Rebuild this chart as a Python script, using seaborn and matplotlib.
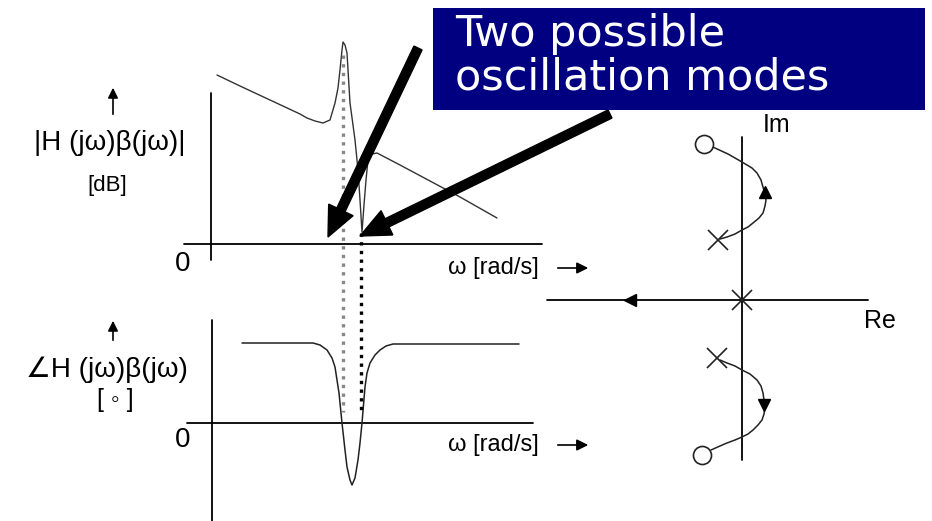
import matplotlib.pyplot as plt
import seaborn as sns
from matplotlib.patches import Rectangle

# Everything is laid out in picture pixels (x to the right, y downwards)
W, H = 932, 521

# Magnitude |H(jw)B(jw)| curve
mag_x = [217, 240, 270, 300, 307, 315, 323, 330, 335, 338, 340, 342, 343, 345, 347, 350,
         353, 355, 358, 360, 362, 364, 366, 368, 372, 377, 400, 430, 460, 497]
mag_y = [75, 86, 100, 114, 118, 121, 123, 120, 103, 88, 70, 50, 42, 45, 53, 103,
         125, 140, 170, 200, 232, 205, 180, 160, 154, 153, 165, 181, 197, 218]

# Phase curve
phase_x = [242, 313, 320, 327, 332, 335, 339, 342, 345, 347, 350, 352, 355, 358, 360,
           362, 365, 367, 370, 375, 380, 386, 393, 519]
phase_y = [343, 343, 345, 350, 358, 367, 393, 423, 450, 467, 480, 485, 478, 460, 443,
           423, 387, 373, 363, 355, 350, 346, 344, 344]

# Root locus branches
upper_x = [712, 715, 728, 742, 752, 757, 761, 763, 765, 766, 765, 763, 759, 753, 748, 742, 735, 727, 720]
upper_y = [147, 148, 154, 162, 168, 173, 180, 187, 194, 200, 206, 213, 218, 223, 227, 230, 234, 237, 239]
lower_x = [720, 727, 735, 742, 750, 757, 761, 763, 765, 764, 762, 758, 753, 748, 742, 735, 727, 720, 711]
lower_y = [360, 363, 366, 370, 374, 380, 386, 393, 407, 414, 420, 425, 430, 434, 437, 440, 443, 446, 450]
poles_x = [742, 718, 717]
poles_y = [300, 240, 358]
zeros_x = [704, 702]
zeros_y = [144, 455]

# Oscillation frequencies (dotted markers)
osc_x = [343, 361]

box_lines = ["Two possible", "oscillation modes"]

sns.set_style("white")
plt.rcParams['font.family'] = ['Liberation Sans', 'DejaVu Sans']
plt.rcParams['text.color'] = 'black'

fig = plt.figure(figsize=(W / 100, H / 100), dpi=100)
ax = fig.add_axes([0, 0, 1, 1])
ax.set_xlim(0, W)
ax.set_ylim(H, 0)
ax.axis('off')

k = dict(color='black', lw=1.3)
# magnitude axes
ax.plot([211, 211], [93, 260], **k)
ax.plot([184, 542], [244, 244], **k)
# phase axes
ax.plot([212, 212], [320, 521], **k)
ax.plot([187, 533], [423, 423], **k)

sns.lineplot(x=mag_x, y=mag_y, sort=False, estimator=None, ax=ax, color='#333333', lw=1.0)
sns.lineplot(x=phase_x, y=phase_y, sort=False, estimator=None, ax=ax, color='#222222', lw=1.1)

# dotted guides
ax.plot([osc_x[0]] * 2, [55, 412], color='#888888', lw=2.4, ls=(0, (1, 1.6)))
ax.plot([osc_x[1]] * 2, [233, 412], color='black', lw=2.4, ls=(0, (1, 1.6)))

# axis captions
ax.text(183, 264, "0", fontsize=20, ha='center', va='center')
ax.text(183, 440, "0", fontsize=20, ha='center', va='center')
for yy in (268, 445):
    ax.text(493, yy, "ω [rad/s]", fontsize=17, ha='center', va='center')
    ax.annotate('', xy=(591, yy), xytext=(555, yy),
                arrowprops=dict(arrowstyle='-|>', color='black', lw=1.2, mutation_scale=17))

ax.annotate('', xy=(113, 85), xytext=(113, 117),
            arrowprops=dict(arrowstyle='-|>', color='black', lw=1.2, mutation_scale=15))
ax.annotate('', xy=(113, 318), xytext=(113, 343),
            arrowprops=dict(arrowstyle='-|>', color='black', lw=1.2, mutation_scale=15))
ax.text(110, 143, "|H (jω)β(jω)|", fontsize=20, ha='center', va='center')
ax.text(107, 185, "[dB]", fontsize=16, ha='center', va='center')
ax.text(107, 370, "∠H (jω)β(jω)", fontsize=20, ha='center', va='center')
ax.text(115, 400, "[ ◦ ]", fontsize=18, ha='center', va='center')

# root locus
ax.plot([742, 742], [137, 460], color='black', lw=1.3)
ax.plot([547, 868], [300, 300], color='black', lw=1.3)
ax.plot([630], [300], marker='<', color='black', ms=9)
sns.lineplot(x=upper_x, y=upper_y, sort=False, estimator=None, ax=ax, color='#222222', lw=1.1)
sns.lineplot(x=lower_x, y=lower_y, sort=False, estimator=None, ax=ax, color='#222222', lw=1.1)
ax.plot([765], [192], marker='^', color='black', ms=8)
ax.plot([764], [405], marker='v', color='black', ms=8)
ax.plot(poles_x, poles_y, ls='none', marker='x', color='#222222', ms=15, mew=1.2)
ax.plot(zeros_x, zeros_y, ls='none', marker='o', mfc='white', mec='#222222', ms=13, mew=1.2)
ax.text(777, 125, "Im", fontsize=18, ha='center', va='center')
ax.text(880, 321, "Re", fontsize=18, ha='center', va='center')

# big pointer arrows
ax.arrow(418, 48, 328 - 418, 237 - 48, width=9, head_width=27, head_length=30,
         length_includes_head=True, color='black', zorder=5)
ax.arrow(610, 114, 360 - 610, 236 - 114, width=9, head_width=27, head_length=30,
         length_includes_head=True, color='black', zorder=5)

# title box
ax.add_patch(Rectangle((433, 8), 492, 102, facecolor='#000080', edgecolor='none', zorder=6))
ax.text(455, 46, box_lines[0], fontsize=31, color='white', va='baseline', ha='left',
        family='DejaVu Sans', zorder=7)
ax.text(455, 89, box_lines[1], fontsize=31, color='white', va='baseline', ha='left',
        family='DejaVu Sans', zorder=7)

fig.savefig("out.png", dpi=100)
